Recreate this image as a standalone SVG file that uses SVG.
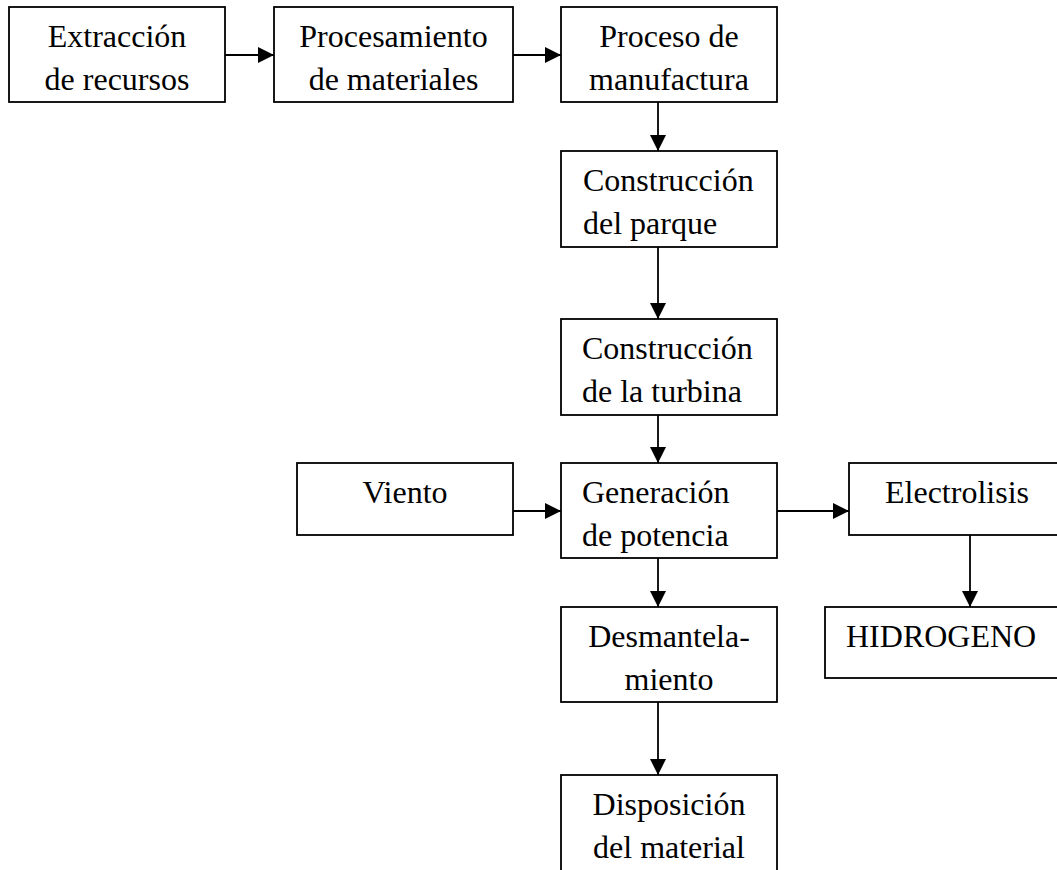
<svg xmlns="http://www.w3.org/2000/svg" width="1057" height="870" viewBox="0 0 1057 870">
<style>
rect.box{fill:#fff;stroke:#000;stroke-width:1.8}
text{font-family:"Liberation Serif","Times New Roman",serif;font-size:32px;fill:#000}
.c{text-anchor:middle}
.conn line{stroke:#000;stroke-width:1.8;marker-end:url(#ah)}
</style>
<defs>
<marker id="ah" viewBox="0 0 16 16" refX="16" refY="8" markerWidth="16" markerHeight="16" markerUnits="userSpaceOnUse" orient="auto">
<path d="M0,0 L16,8 L0,16 z" fill="#000"/>
</marker>
</defs>
<rect width="1057" height="870" fill="#fff"/>
<g id="n1"><rect class="box" x="9" y="7" width="216" height="95"/><text class="c" x="117" y="47">Extracción</text><text class="c" x="117" y="90">de recursos</text></g>
<g id="n2"><rect class="box" x="274" y="7" width="239" height="95"/><text class="c" x="393.5" y="47">Procesamiento</text><text class="c" x="393.5" y="90">de materiales</text></g>
<g id="n3"><rect class="box" x="561" y="7" width="216" height="95"/><text class="c" x="669" y="47">Proceso de</text><text class="c" x="669" y="90">manufactura</text></g>
<g id="n4"><rect class="box" x="561" y="151" width="216" height="96"/><text x="583" y="191">Construcción</text><text x="583" y="234">del parque</text></g>
<g id="n5"><rect class="box" x="561" y="319" width="216" height="96"/><text x="582" y="359">Construcción</text><text x="582" y="402">de la turbina</text></g>
<g id="n6"><rect class="box" x="561" y="463" width="216" height="95"/><text x="582" y="503">Generación</text><text x="582" y="546">de potencia</text></g>
<g id="n7"><rect class="box" x="297" y="463" width="216" height="72"/><text class="c" x="405" y="503">Viento</text></g>
<g id="n8"><rect class="box" x="849" y="463" width="216" height="72"/><text class="c" x="957" y="503">Electrolisis</text></g>
<g id="n9"><rect class="box" x="825" y="607" width="240" height="71"/><text x="846" y="647">HIDROGENO</text></g>
<g id="n10"><rect class="box" x="561" y="607" width="216" height="95"/><text class="c" x="669" y="647">Desmantela-</text><text class="c" x="669" y="690">miento</text></g>
<g id="n11"><rect class="box" x="561" y="775" width="216" height="105"/><text class="c" x="669" y="815">Disposición</text><text class="c" x="669" y="858">del material</text></g>
<g id="connectors" class="conn">
<line x1="225" y1="55" x2="274" y2="55"/>
<line x1="513" y1="55" x2="561" y2="55"/>
<line x1="658" y1="102" x2="658" y2="151"/>
<line x1="658" y1="247" x2="658" y2="319"/>
<line x1="658" y1="415" x2="658" y2="463"/>
<line x1="513" y1="511" x2="561" y2="511"/>
<line x1="777" y1="511" x2="849" y2="511"/>
<line x1="970" y1="535" x2="970" y2="607"/>
<line x1="658" y1="558" x2="658" y2="607"/>
<line x1="658" y1="702" x2="658" y2="775"/>
</g>
</svg>
